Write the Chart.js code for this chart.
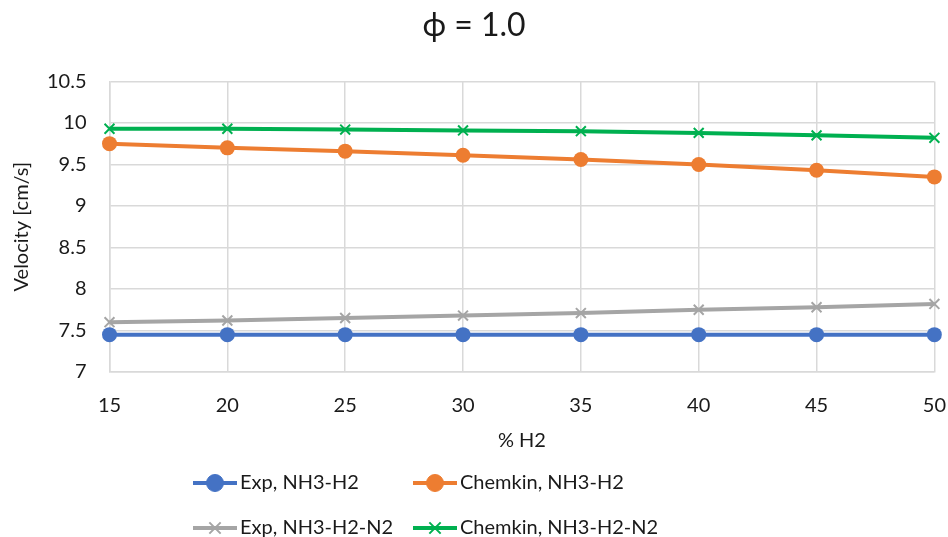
<!DOCTYPE html>
<html>
<head>
<meta charset="utf-8">
<script src="https://cdn.jsdelivr.net/npm/chart.js@4"></script>
<style>
  html, body { margin: 0; padding: 0; background: #fff; }
  #wrap { width: 948px; height: 537px; position: relative; }
</style>
</head>
<body>
<div id="wrap"><canvas id="chart"></canvas></div>
<script>
const h2Percent = [15, 20, 25, 30, 35, 40, 45, 50];
const expNH3H2 = [7.45, 7.45, 7.45, 7.45, 7.45, 7.45, 7.45, 7.45];
const chemkinNH3H2 = [9.75, 9.70, 9.66, 9.61, 9.56, 9.50, 9.43, 9.35];
const expNH3H2N2 = [7.60, 7.62, 7.65, 7.68, 7.71, 7.75, 7.78, 7.82];
const chemkinNH3H2N2 = [9.93, 9.93, 9.92, 9.91, 9.90, 9.88, 9.85, 9.82];

const font = "Lato, 'Open Sans', sans-serif";
const textColor = "#1a1a1a";

function series(label, values, color, pointStyle) {
  const isCross = pointStyle === "crossRot";
  return {
    label,
    data: values,
    borderColor: color,
    backgroundColor: color,
    borderWidth: 4,
    pointStyle,
    pointRadius: isCross ? 7 : 7.5,
    pointBorderWidth: isCross ? 2 : 0,
    pointHoverRadius: isCross ? 7 : 7.5,
    tension: 0,
  };
}

// legend drawn as two rows of two items, each with a line and its marker
const legendPlugin = {
  id: "excelLegend",
  afterDraw(chart) {
    const { ctx, width, height } = chart;
    const cols = [width / 2 - 281, width / 2 - 61];
    const rows = [height - 54, height - 9];
    ctx.save();
    ctx.font = "20px " + font;
    ctx.textBaseline = "middle";
    chart.data.datasets.forEach((ds, i) => {
      const x = cols[i % 2];
      const y = rows[Math.floor(i / 2)];
      ctx.strokeStyle = ds.borderColor;
      ctx.fillStyle = ds.borderColor;
      ctx.lineWidth = ds.borderWidth;
      ctx.beginPath();
      ctx.moveTo(x, y);
      ctx.lineTo(x + 44, y);
      ctx.stroke();
      ctx.lineWidth = ds.pointBorderWidth || 1;
      Chart.helpers.drawPoint(ctx, {
        pointStyle: ds.pointStyle,
        radius: ds.pointRadius + 1,
        borderWidth: ds.pointBorderWidth || 1,
      }, x + 22, y);
      ctx.fillStyle = textColor;
      ctx.fillText(ds.label, x + 47, y);
    });
    ctx.restore();
  },
};

new Chart(document.getElementById("chart"), {
  type: "line",
  data: {
    labels: h2Percent,
    datasets: [
      series("Exp, NH3-H2", expNH3H2, "#4472C4", "circle"),
      series("Chemkin, NH3-H2", chemkinNH3H2, "#ED7D31", "circle"),
      series("Exp, NH3-H2-N2", expNH3H2N2, "#A5A5A5", "crossRot"),
      series("Chemkin, NH3-H2-N2", chemkinNH3H2N2, "#00B050", "crossRot"),
    ],
  },
  options: {
    responsive: true,
    maintainAspectRatio: false,
    animation: false,
    layout: {
      padding: { top: 0, right: 0, bottom: 84, left: 0 },
    },
    plugins: {
      legend: { display: false },
      tooltip: { enabled: false },
      title: {
        display: true,
        text: "ϕ = 1.0",
        color: textColor,
        font: { family: font, size: 32, weight: "normal" },
        padding: { top: 6, bottom: 37 },
      },
    },
    scales: {
      x: {
        offset: false,
        afterFit: (scale) => { scale.height = 81; },
        grid: {
          color: "#d9d9d9",
          lineWidth: 1.5,
          drawTicks: true,
          tickLength: 20,
          tickColor: "rgba(0,0,0,0)",
        },
        border: { color: "#d9d9d9", width: 1.5 },
        ticks: {
          color: textColor,
          padding: 2,
          maxRotation: 0,
          font: { family: font, size: 20 },
        },
        title: {
          display: true,
          text: "% H2",
          color: textColor,
          padding: { top: 8, bottom: 0 },
          font: { family: font, size: 20 },
        },
      },
      y: {
        min: 7,
        max: 10.5,
        afterFit: (scale) => { scale.width = 109.5; },
        grid: { color: "#d9d9d9", lineWidth: 1.5, drawTicks: false },
        border: { color: "#d9d9d9", width: 1.5 },
        ticks: {
          stepSize: 0.5,
          color: textColor,
          padding: 23,
          font: { family: font, size: 20 },
          callback: (value) => String(value),
        },
        title: {
          display: true,
          text: "Velocity [cm/s]",
          color: textColor,
          padding: { top: 10, bottom: 4 },
          font: { family: font, size: 20 },
        },
      },
    },
  },
  plugins: [legendPlugin],
});
</script>
</body>
</html>
